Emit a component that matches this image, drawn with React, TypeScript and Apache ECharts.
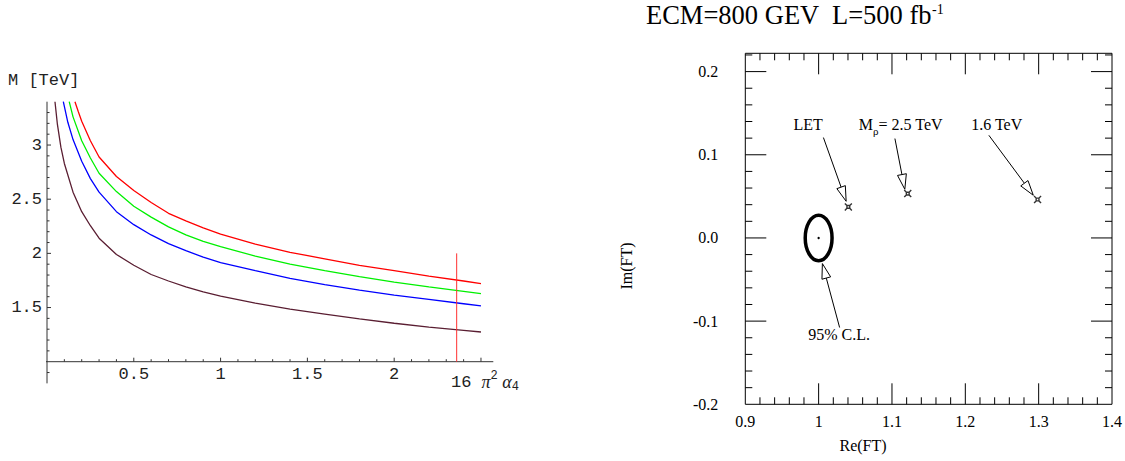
import { useEffect, useRef } from 'react';
import * as echarts from 'echarts';

// ---------- left panel: M [TeV] vs 16 pi^2 alpha4 ----------
const redCurve = [[0.161, 3.40], [0.18, 3.31], [0.2, 3.22], [0.25, 3.04], [0.3, 2.89], [0.4, 2.71], [0.5, 2.58], [0.6, 2.47], [0.7, 2.37], [0.8, 2.30], [0.9, 2.235], [1.0, 2.177], [1.2, 2.085], [1.4, 2.01], [1.6, 1.95], [1.8, 1.89], [2.0, 1.84], [2.2, 1.79], [2.4, 1.745], [2.5, 1.721]];
const greenCurve = [[0.128, 3.40], [0.15, 3.26], [0.2, 3.04], [0.25, 2.88], [0.3, 2.74], [0.4, 2.57], [0.5, 2.435], [0.6, 2.335], [0.7, 2.245], [0.8, 2.17], [0.9, 2.11], [1.0, 2.063], [1.2, 1.975], [1.4, 1.90], [1.6, 1.84], [1.8, 1.785], [2.0, 1.735], [2.2, 1.69], [2.4, 1.65], [2.5, 1.628]];
const blueCurve = [[0.094, 3.40], [0.12, 3.21], [0.15, 3.05], [0.2, 2.85], [0.25, 2.69], [0.3, 2.565], [0.4, 2.385], [0.5, 2.265], [0.6, 2.17], [0.7, 2.09], [0.8, 2.025], [0.9, 1.965], [1.0, 1.915], [1.2, 1.84], [1.4, 1.77], [1.6, 1.712], [1.8, 1.66], [2.0, 1.615], [2.2, 1.575], [2.4, 1.535], [2.5, 1.515]];
const maroonCurve = [[0.046, 3.40], [0.06, 3.19], [0.08, 2.98], [0.1, 2.83], [0.15, 2.565], [0.2, 2.385], [0.25, 2.255], [0.3, 2.14], [0.4, 1.99], [0.5, 1.89], [0.6, 1.805], [0.7, 1.745], [0.8, 1.69], [0.9, 1.645], [1.0, 1.605], [1.2, 1.54], [1.4, 1.485], [1.6, 1.44], [1.8, 1.395], [2.0, 1.355], [2.2, 1.32], [2.4, 1.29], [2.5, 1.274]];
const curveColors = ['#ff0000', '#00f000', '#0000ff', '#5a1e32'];
const verticalMarkerAlpha = 2.36;
const verticalMarkerRange = [1.0, 2.0];

const leftXRange = [0, 2.571];
const leftYRange = [1, 3.4];
const leftXAxisExtent = [-0.063, 2.571];
const leftYAxisExtent = [0.8, 3.4];
const leftXLabels = ['0.5', '1', '1.5', '2'];
const leftYLabels = ['1.5', '2', '2.5', '3'];
const leftXTickValues = [0.1, 0.2, 0.3, 0.4, 0.5, 0.6, 0.7, 0.8, 0.9, 1.0, 1.1, 1.2, 1.3, 1.4, 1.5, 1.6, 1.7, 1.8, 1.9, 2.0, 2.1, 2.2, 2.3, 2.4, 2.5];
const leftYTickValues = [0.9, 1.1, 1.2, 1.3, 1.4, 1.5, 1.6, 1.7, 1.8, 1.9, 2.0, 2.1, 2.2, 2.3, 2.4, 2.5, 2.6, 2.7, 2.8, 2.9, 3.0, 3.1, 3.2, 3.3];

// ---------- right panel: Im(FT) vs Re(FT) ----------
const rightXRange = [0.9, 1.4];
const rightYRange = [-0.2, 0.222];
const rightXTickValues = [0.92, 0.94, 0.96, 0.98, 1.0, 1.02, 1.04, 1.06, 1.08, 1.1, 1.12, 1.14, 1.16, 1.18, 1.2, 1.22, 1.24, 1.26, 1.28, 1.3, 1.32, 1.34, 1.36, 1.38];
const rightYTickValues = [-0.18, -0.16, -0.14, -0.12, -0.1, -0.08, -0.06, -0.04, -0.02, 0.0, 0.02, 0.04, 0.06, 0.08, 0.1, 0.12, 0.14, 0.16, 0.18, 0.2, 0.22];

const clEllipse = [1.0, 0.0, 0.0183, 0.0273]; // centre Re, centre Im, half-width, half-height
const modelRe = [1.0405, 1.1215, 1.2985];
const modelIm = [0.0373, 0.0533, 0.0462];

const annText = ['LET', '{m|M}{s|ρ}{m|= 2.5 TeV}', '1.6 TeV', '95% C.L.'];
const annTextRe = [0.9856, 1.1119, 1.2428, 1.028];
const annTextIm = [0.1366, 0.1366, 0.1366, -0.1157];
const arrowTailRe = [1.0065, 1.104, 1.2321, 1.0286];
const arrowTailIm = [0.1207, 0.1195, 0.1234, -0.1077];
const arrowTipRe = [1.0375, 1.1175, 1.2927, 1.0051];
const arrowTipIm = [0.0441, 0.0585, 0.0513, -0.0308];

const MONO = '"Liberation Mono", "DejaVu Sans Mono", monospace';
const SERIF = '"Liberation Serif", "DejaVu Serif", serif';

const near = (a: number, b: number) => Math.abs(a - b) < 1e-6;

export default function App() {
  const ref = useRef<HTMLDivElement>(null);

  useEffect(() => {
    if (!ref.current) return;
    const chart = echarts.init(ref.current, null, { renderer: 'svg' });

    const curveSeries = [redCurve, greenCurve, blueCurve, maroonCurve].map((d, i) => ({
      type: 'line',
      xAxisIndex: 0,
      yAxisIndex: 0,
      data: d,
      showSymbol: false,
      symbol: 'none',
      lineStyle: { color: curveColors[i], width: 1.3 },
      z: 4,
      silent: true,
    }));

    const option: any = {
      animation: false,
      backgroundColor: '#ffffff',
      grid: [
        { left: 47, top: 101.7, width: 446.3, height: 260, show: false },
        { left: 745.3, top: 53.3, width: 370.7, height: 351, show: true, borderColor: '#000', borderWidth: 1, backgroundColor: 'transparent' },
      ],
      xAxis: [
        {
          type: 'value', gridIndex: 0, min: leftXRange[0], max: leftXRange[1], interval: 0.5,
          axisLine: { show: false }, axisTick: { show: false }, splitLine: { show: false },
          axisLabel: {
            margin: 4, fontFamily: MONO, fontSize: 17, color: '#222',
            formatter: (v: number) => leftXLabels.find((l) => near(parseFloat(l), v)) ?? '',
          },
        },
        {
          type: 'value', gridIndex: 1, min: rightXRange[0], max: rightXRange[1], interval: 0.1,
          axisLine: { show: false }, axisTick: { show: false }, splitLine: { show: false },
          axisLabel: { margin: 9, fontFamily: SERIF, fontSize: 16, color: '#000', showMinLabel: true, showMaxLabel: true },
        },
      ],
      yAxis: [
        {
          type: 'value', gridIndex: 0, min: leftYRange[0], max: leftYRange[1], interval: 0.5,
          axisLine: { show: false }, axisTick: { show: false }, splitLine: { show: false },
          axisLabel: {
            margin: 5, fontFamily: MONO, fontSize: 17, color: '#222',
            formatter: (v: number) => leftYLabels.find((l) => near(parseFloat(l), v)) ?? '',
          },
        },
        {
          type: 'value', gridIndex: 1, min: rightYRange[0], max: rightYRange[1], interval: 0.1,
          axisLine: { show: false }, axisTick: { show: false }, splitLine: { show: false },
          axisLabel: {
            margin: 27, fontFamily: SERIF, fontSize: 16, color: '#000',
            formatter: (v: number) => (v > 0.21 ? '' : v.toFixed(1)),
          },
        },
      ],
      series: [
        // left axes lines (Mathematica-style crossing axes)
        { type: 'line', xAxisIndex: 0, yAxisIndex: 0, clip: false, symbol: 'none', silent: true, z: 3,
          data: [[leftXAxisExtent[0], leftYRange[0]], [leftXAxisExtent[1], leftYRange[0]]], lineStyle: { color: '#333', width: 1 } },
        { type: 'line', xAxisIndex: 0, yAxisIndex: 0, clip: false, symbol: 'none', silent: true, z: 3,
          data: [[0, leftYAxisExtent[0]], [0, leftYAxisExtent[1]]], lineStyle: { color: '#333', width: 1 } },
        // left ticks
        {
          type: 'custom', xAxisIndex: 0, yAxisIndex: 0, silent: true, z: 3,
          data: leftXTickValues.map((v) => [v, leftYRange[0]]),
          encode: { x: 0, y: 1 },
          renderItem: (_p: any, api: any) => {
            const v = api.value(0);
            const p = api.coord([v, leftYRange[0]]);
            const major = near(v * 2, Math.round(v * 2));
            const len = major ? 4 : 2.5;
            return { type: 'line', shape: { x1: p[0], y1: p[1], x2: p[0], y2: p[1] - len }, style: { stroke: '#333', lineWidth: 1 } };
          },
        },
        {
          type: 'custom', xAxisIndex: 0, yAxisIndex: 0, silent: true, z: 3,
          data: leftYTickValues.map((v) => [0, v]),
          encode: { x: 0, y: 1 },
          renderItem: (_p: any, api: any) => {
            const v = api.value(1);
            const p = api.coord([0, v]);
            const major = near(v * 2, Math.round(v * 2));
            const len = major ? 4 : 2.5;
            return { type: 'line', shape: { x1: p[0], y1: p[1], x2: p[0] + len, y2: p[1] }, style: { stroke: '#333', lineWidth: 1 } };
          },
        },
        ...curveSeries,
        {
          type: 'line', xAxisIndex: 0, yAxisIndex: 0, symbol: 'none', silent: true, z: 5,
          data: [[verticalMarkerAlpha, verticalMarkerRange[0]], [verticalMarkerAlpha, verticalMarkerRange[1]]],
          lineStyle: { color: '#ff3030', width: 1 },
        },
        // right ticks (all four sides, inward)
        {
          type: 'custom', xAxisIndex: 1, yAxisIndex: 1, silent: true, z: 3,
          data: rightXTickValues.map((v) => [v, 0]),
          encode: { x: 0, y: 1 },
          renderItem: (_p: any, api: any) => {
            const v = api.value(0);
            const pb = api.coord([v, rightYRange[0]]);
            const pt = api.coord([v, rightYRange[1]]);
            const major = near(v * 10, Math.round(v * 10));
            const len = major ? 21 : 7;
            return {
              type: 'group',
              children: [
                { type: 'line', shape: { x1: pb[0], y1: pb[1], x2: pb[0], y2: pb[1] - len }, style: { stroke: '#000', lineWidth: 1 } },
                { type: 'line', shape: { x1: pt[0], y1: pt[1], x2: pt[0], y2: pt[1] + len }, style: { stroke: '#000', lineWidth: 1 } },
              ],
            };
          },
        },
        {
          type: 'custom', xAxisIndex: 1, yAxisIndex: 1, silent: true, z: 3,
          data: rightYTickValues.map((v) => [1, v]),
          encode: { x: 0, y: 1 },
          renderItem: (_p: any, api: any) => {
            const v = api.value(1);
            const pl = api.coord([rightXRange[0], v]);
            const pr = api.coord([rightXRange[1], v]);
            const major = near(v * 10, Math.round(v * 10));
            const len = major ? 21 : 7;
            return {
              type: 'group',
              children: [
                { type: 'line', shape: { x1: pl[0], y1: pl[1], x2: pl[0] + len, y2: pl[1] }, style: { stroke: '#000', lineWidth: 1 } },
                { type: 'line', shape: { x1: pr[0], y1: pr[1], x2: pr[0] - len, y2: pr[1] }, style: { stroke: '#000', lineWidth: 1 } },
              ],
            };
          },
        },
        // 95% C.L. ellipse
        {
          type: 'custom', xAxisIndex: 1, yAxisIndex: 1, silent: true, z: 4,
          data: [clEllipse],
          encode: { x: 0, y: 1 },
          renderItem: (_p: any, api: any) => {
            const c = api.coord([api.value(0), api.value(1)]);
            const s = api.size([api.value(2), api.value(3)]);
            return {
              type: 'group',
              children: [
                { type: 'ellipse', shape: { cx: c[0], cy: c[1], rx: s[0], ry: s[1] }, style: { fill: 'none', stroke: '#000', lineWidth: 3.5 } },
                { type: 'circle', shape: { cx: c[0], cy: c[1], r: 1.2 }, style: { fill: '#000' } },
              ],
            };
          },
        },
        // model points
        {
          type: 'scatter', xAxisIndex: 1, yAxisIndex: 1, silent: true, z: 5,
          data: modelRe.map((r, i) => [r, modelIm[i]]),
          symbol: 'path://M0,0L3,3M10,0L7,3M0,10L3,7M10,10L7,7M3,3H7V7H3Z',
          symbolSize: 7,
          itemStyle: { color: 'rgba(0,0,0,0)', borderColor: '#000', borderWidth: 1.4 },
        },
        // annotation arrows + labels
        {
          type: 'custom', xAxisIndex: 1, yAxisIndex: 1, silent: true, z: 6,
          data: annText.map((_t, i) => [arrowTailRe[i], arrowTailIm[i], arrowTipRe[i], arrowTipIm[i], annTextRe[i], annTextIm[i], i]),
          encode: { x: 0, y: 1 },
          renderItem: (_p: any, api: any) => {
            const t = api.coord([api.value(0), api.value(1)]);
            const h = api.coord([api.value(2), api.value(3)]);
            const lp = api.coord([api.value(4), api.value(5)]);
            const idx = api.value(6);
            const dx = h[0] - t[0];
            const dy = h[1] - t[1];
            const L = Math.sqrt(dx * dx + dy * dy);
            const ux = dx / L;
            const uy = dy / L;
            const headLen = 15;
            const headHalf = 4.5;
            const bx = h[0] - ux * headLen;
            const by = h[1] - uy * headLen;
            const nx = -uy;
            const ny = ux;
            return {
              type: 'group',
              children: [
                { type: 'line', shape: { x1: t[0], y1: t[1], x2: bx, y2: by }, style: { stroke: '#000', lineWidth: 1 } },
                {
                  type: 'polygon',
                  shape: { points: [[h[0], h[1]], [bx + nx * headHalf, by + ny * headHalf], [bx - nx * headHalf, by - ny * headHalf]] },
                  style: { fill: '#fff', stroke: '#000', lineWidth: 1 },
                },
                {
                  type: 'text', x: lp[0], y: lp[1],
                  style: {
                    text: annText[idx], fill: '#000', fontFamily: SERIF, fontSize: 16, align: 'center', verticalAlign: 'middle',
                    rich: {
                      m: { fontFamily: SERIF, fontSize: 16, fill: '#000' },
                      s: { fontFamily: SERIF, fontSize: 11, lineHeight: 11, padding: [14, 0, 0, 0], fill: '#000' },
                    },
                  },
                },
              ],
            };
          },
        },
      ],
      graphic: [
        { type: 'text', x: 8, y: 80, silent: true, style: { text: 'M [TeV]', fontFamily: MONO, fontSize: 17, fill: '#222', align: 'left', verticalAlign: 'middle' } },
        {
          type: 'text', x: 451, y: 382, silent: true,
          style: {
            text: '{n|16 }{g|π}{sup|2}{g| α}{sub|4}', align: 'left', verticalAlign: 'middle',
            rich: {
              n: { fontFamily: MONO, fontSize: 17, fill: '#222' },
              g: { fontFamily: SERIF, fontStyle: 'italic', fontSize: 18, fill: '#222' },
              sup: { fontFamily: MONO, fontSize: 12, lineHeight: 12, padding: [0, 0, 13, 0], fill: '#222' },
              sub: { fontFamily: MONO, fontSize: 12, lineHeight: 12, padding: [9, 0, 0, 0], fill: '#222' },
            },
          },
        },
        {
          type: 'text', x: 646, y: 15, silent: true,
          style: {
            text: '{t|ECM=800 GEV  L=500 fb}{s|-1}', align: 'left', verticalAlign: 'middle',
            rich: {
              t: { fontFamily: SERIF, fontSize: 26.5, fill: '#000' },
              s: { fontFamily: SERIF, fontSize: 14, lineHeight: 14, padding: [0, 0, 12, 0], fill: '#000' },
            },
          },
        },
        { type: 'text', x: 863, y: 445, silent: true, style: { text: 'Re(FT)', fontFamily: SERIF, fontSize: 16, fill: '#000', align: 'center', verticalAlign: 'middle' } },
        { type: 'text', x: 626, y: 266, rotation: Math.PI / 2, silent: true, style: { text: 'Im(FT)', fontFamily: SERIF, fontSize: 16, fill: '#000', align: 'center', verticalAlign: 'middle' } },
      ],
    };

    chart.setOption(option);
    return () => chart.dispose();
  }, []);

  return <div ref={ref} style={{ position: 'absolute', left: 0, top: 0, width: 1125, height: 461 }} />;
}
